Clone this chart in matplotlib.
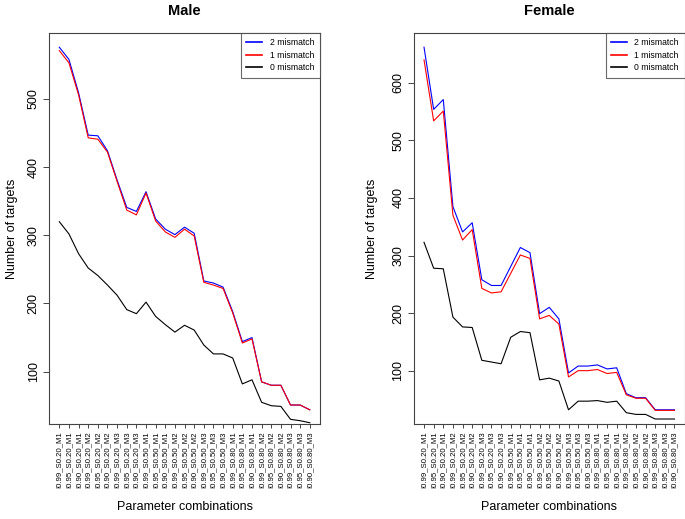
import matplotlib
matplotlib.use("Agg")
import matplotlib.pyplot as plt

plt.rcParams['font.family'] = ['Liberation Sans', 'DejaVu Sans']

combos = [f"I{i}_S{s}_M{m}" for s in ["0.20", "0.50", "0.80"] for m in ["1", "2", "3"] for i in ["0.99", "0.95", "0.90"]]

male_mm2 = [576, 558, 509, 447, 446, 424, 381, 341, 335, 364, 324, 309, 301, 312, 303,
            233, 230, 224, 188, 144, 150, 85, 80, 80, 51, 51, 44]
male_mm1 = [571, 553, 506, 443, 441, 422, 379, 337, 330, 362, 321, 305, 297, 309, 299,
            231, 227, 222, 186, 142, 148, 85, 80, 80, 51, 51, 44]
male_mm0 = [320, 302, 273, 252, 241, 227, 212, 191, 185, 202, 181, 169, 158, 168, 161,
            139, 126, 126, 120, 82, 88, 55, 50, 49, 30, 28, 25]

female_mm2 = [662, 554, 571, 385, 341, 357, 258, 248, 248, 281, 314, 305, 199, 210, 190,
              96, 108, 108, 110, 103, 105, 60, 53, 53, 32, 32, 32]
female_mm1 = [640, 534, 551, 370, 327, 345, 243, 235, 237, 269, 301, 295, 190, 196, 181,
              89, 100, 100, 102, 95, 97, 58, 52, 52, 31, 31, 31]
female_mm0 = [323, 278, 277, 193, 176, 175, 118, 115, 112, 158, 168, 166, 84, 87, 82,
              32, 47, 47, 48, 45, 47, 27, 24, 24, 16, 16, 16]

panels = [
    ("Male", male_mm2, male_mm1, male_mm0, [100, 200, 300, 400, 500], 7),
    ("Female", female_mm2, female_mm1, female_mm0, [100, 200, 300, 400, 500, 600], 10),
]

fig = plt.figure(figsize=(6.85, 5.19), dpi=100)
lefts = [49.3 / 685, 414 / 685]
bottom = 1 - 424.3 / 519
height = (424.3 - 32.7) / 519
width = 270.5 / 685
axcol = '#444444'

for (title, mm2, mm1, mm0, yt, ylp), left in zip(panels, lefts):
    ax = fig.add_axes([left, bottom, width, height])
    x = list(range(1, len(combos) + 1))
    ax.plot(x, mm2, color='blue', lw=0.8, label='2 mismatch')
    ax.plot(x, mm1, color='red', lw=0.8, label='1 mismatch')
    ax.plot(x, mm0, color='black', lw=0.8, label='0 mismatch')
    n = len(combos)
    pad = 0.04 * (n - 1)
    ax.set_xlim(1 - pad, n + pad)
    lo, hi = min(mm2), max(mm2)
    ypad = 0.04 * (hi - lo)
    ax.set_ylim(lo - ypad, hi + ypad)
    ax.set_xticks(x)
    ax.set_xticklabels(combos, rotation=90, fontsize=5.6)
    ax.set_yticks(yt)
    ax.set_yticklabels([str(v) for v in yt], rotation=90, va='center', fontsize=9)
    ax.tick_params(axis='x', length=3, width=0.7, color=axcol, pad=2)
    ax.tick_params(axis='y', length=4, width=0.7, color=axcol, pad=3)
    for sp in ax.spines.values():
        sp.set_color(axcol)
        sp.set_linewidth(0.8)
    ax.set_title(title, fontsize=10.5, fontweight='bold', pad=13)
    ax.set_ylabel('Number of targets', fontsize=9, labelpad=ylp)
    ax.set_xlabel('Parameter combinations', fontsize=9, labelpad=9.5)
    leg = ax.legend(loc='upper right', fontsize=6.2, frameon=True, fancybox=False,
                    borderaxespad=0, handlelength=1.8, handletextpad=0.9,
                    labelspacing=0.4, borderpad=0.65)
    leg.get_frame().set_edgecolor(axcol)
    leg.get_frame().set_linewidth(0.8)
    for l in leg.get_lines():
        l.set_linewidth(1.2)

fig.savefig('out.png', dpi=100)
